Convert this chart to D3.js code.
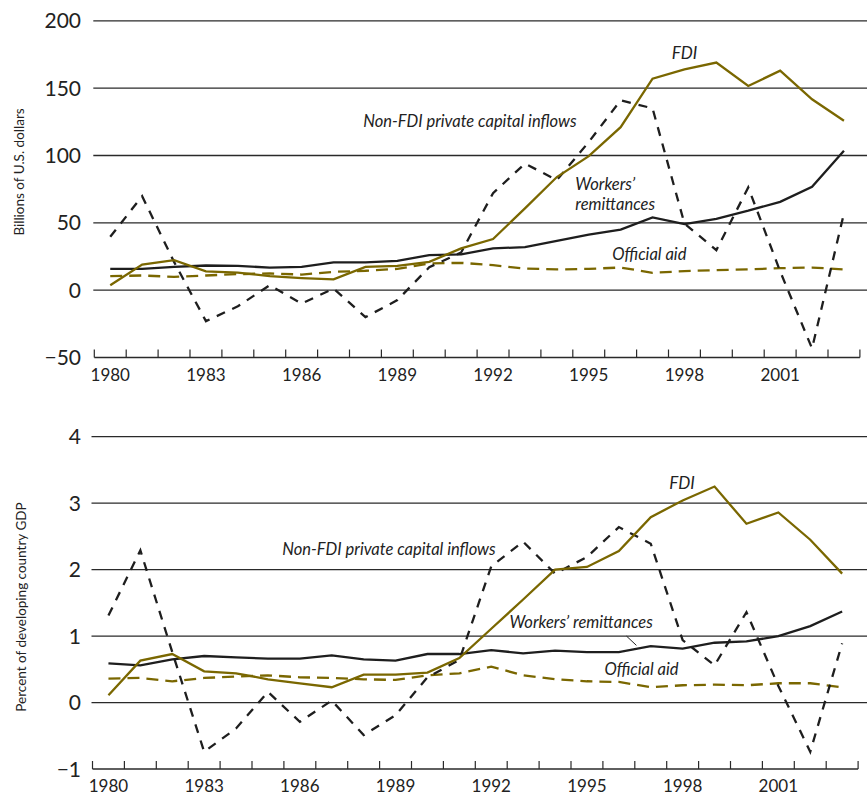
<!DOCTYPE html>
<html>
<head>
<meta charset="utf-8">
<script src="https://cdn.jsdelivr.net/npm/d3@7"></script>
<style>
  html, body { margin: 0; padding: 0; background: #fff; }
  svg { display: block; font-family: Lato, "Open Sans", sans-serif; }
</style>
</head>
<body>
<svg id="chart" width="867" height="797"></svg>
<script>
// ---------- data ----------
const years = d3.range(1980, 2004);
const yearLabels = [1980, 1983, 1986, 1989, 1992, 1995, 1998, 2001];

// Top panel: billions of U.S. dollars
const fdiBn = [3.7, 19, 22.3, 14, 13, 10.4, 9, 8, 17.3, 18, 21, 31, 38, 60.7, 84, 99.5, 121, 157, 164, 169, 151.6, 163, 141.7, 125.8];
const nonFdiBn = [39.6, 69.8, 21, -23, -12, 3.7, -10, 1.2, -20, -7.4, 17, 28, 72, 94, 81.7, 110, 141, 135, 49.5, 29.7, 76.3, 14, -43.3, 57];
const remitBn = [15.8, 15.8, 17.3, 18.3, 18, 16.8, 17.3, 20.6, 20.6, 21.8, 26, 26.5, 31, 32, 36.6, 41.3, 45, 54, 49, 53, 59, 65.6, 76.7, 103.5];
const aidBn = [10.4, 10.9, 9.9, 10.9, 11.9, 12.4, 11.6, 13.6, 14.4, 15.8, 19.8, 20.3, 18.6, 16, 15.4, 15.8, 16.8, 12.9, 14.1, 14.9, 15.4, 16.3, 16.8, 15.4];
const topTicks = [-50, 0, 50, 100, 150, 200];

// Bottom panel: percent of developing country GDP
const fdiPct = [0.11, 0.63, 0.73, 0.47, 0.44, 0.35, 0.29, 0.23, 0.42, 0.42, 0.45, 0.67, 1.11, 1.55, 2.0, 2.04, 2.28, 2.79, 3.04, 3.25, 2.69, 2.86, 2.45, 1.94];
const nonFdiPct = [1.31, 2.29, 0.76, -0.74, -0.39, 0.16, -0.29, 0.03, -0.49, -0.19, 0.38, 0.64, 2.05, 2.42, 1.94, 2.19, 2.64, 2.39, 0.94, 0.56, 1.36, 0.25, -0.74, 0.89];
const remitPct = [0.59, 0.56, 0.65, 0.70, 0.68, 0.66, 0.66, 0.71, 0.65, 0.63, 0.73, 0.73, 0.79, 0.74, 0.78, 0.76, 0.76, 0.85, 0.81, 0.90, 0.92, 1.0, 1.15, 1.37];
const aidPct = [0.36, 0.37, 0.32, 0.37, 0.39, 0.41, 0.38, 0.37, 0.35, 0.34, 0.41, 0.44, 0.54, 0.41, 0.35, 0.32, 0.31, 0.23, 0.26, 0.27, 0.26, 0.29, 0.29, 0.23];
const bottomTicks = [-1, 0, 1, 2, 3, 4];

const seriesNames = ["FDI", "Non-FDI private capital inflows", "Workers' remittances", "Official aid"];

// ---------- styles ----------
const OLIVE = "#7a6700";
const INK = "#1e1e1e";
const styles = {
  fdi:    { stroke: OLIVE, dash: null },
  nonfdi: { stroke: INK, dash: "9,8" },
  remit:  { stroke: INK, dash: null },
  aid:    { stroke: OLIVE, dash: "12,7" }
};

const svg = d3.select("#chart");

function fmt(v) { return v < 0 ? "\u2212" + Math.abs(v) : String(v); }

function panel(cfg) {
  const g = svg.append("g");
  const x = d3.scaleBand().domain(years).range([cfg.left, cfg.left + 31.9 * years.length]).padding(0);
  const y = d3.scaleLinear().domain(cfg.domain).range(cfg.yRange);
  const xc = yr => x(yr) + x.bandwidth() / 2;

  // gridlines
  g.append("g").selectAll("line").data(cfg.ticks.slice(1)).join("line")
    .attr("x1", cfg.left - 1).attr("x2", 867)
    .attr("y1", d => y(d)).attr("y2", d => y(d))
    .attr("stroke", "#2a2a2a").attr("stroke-width", 1.3);

  // y tick labels
  g.append("g").selectAll("text").data(cfg.ticks).join("text")
    .attr("x", 81).attr("y", d => y(d))
    .attr("dy", "0.36em")
    .attr("text-anchor", "end")
    .attr("font-size", 21)
    .attr("fill", "#222")
    .text(fmt);

  // x axis line + ticks
  const y0 = y(cfg.domain[0]);
  g.append("line").attr("x1", x.range()[0]).attr("x2", x.range()[1])
    .attr("y1", y0).attr("y2", y0).attr("stroke", "#2a2a2a").attr("stroke-width", 1.3);
  const bounds = years.map(yr => x(yr)).concat([x.range()[1]]);
  g.append("g").selectAll("line").data(bounds).join("line")
    .attr("x1", d => d).attr("x2", d => d)
    .attr("y1", y0).attr("y2", y0 - 8)
    .attr("stroke", "#2a2a2a").attr("stroke-width", 1.2);
  g.append("g").selectAll("text").data(yearLabels).join("text")
    .attr("x", d => xc(d)).attr("y", y0 + 23)
    .attr("text-anchor", "middle")
    .attr("font-size", 17)
    .attr("fill", "#222")
    .text(d => d);

  // axis title
  g.append("text")
    .attr("transform", `translate(${cfg.titleX},${cfg.titleY}) rotate(-90)`)
    .attr("text-anchor", "middle")
    .attr("font-size", 13.5)
    .attr("fill", "#222")
    .text(cfg.title);

  // lines
  const line = d3.line().x((d, i) => xc(years[i])).y(d => y(d));
  const order = [["aid", cfg.aid], ["remit", cfg.remit], ["nonfdi", cfg.nonfdi], ["fdi", cfg.fdi]];
  order.forEach(([k, vals]) => {
    g.append("path").datum(vals)
      .attr("d", line)
      .attr("fill", "none")
      .attr("stroke", styles[k].stroke)
      .attr("stroke-width", 2.3)
      .attr("stroke-linejoin", "miter")
      .attr("stroke-dasharray", styles[k].dash);
  });

  // annotations
  cfg.labels.forEach(l => {
    g.append("text")
      .attr("x", xc(1980) + (l.yr - 1980) * 31.9)
      .attr("y", y(l.v))
      .attr("text-anchor", l.anchor || "start")
      .attr("font-size", l.size || 16.5)
      .attr("font-style", "italic")
      .attr("fill", "#222")
      .text(l.text);
  });
  if (cfg.leader) {
    const L = cfg.leader;
    g.append("line")
      .attr("x1", xc(1980) + (L[0] - 1980) * 31.9).attr("y1", y(L[1]))
      .attr("x2", xc(1980) + (L[2] - 1980) * 31.9).attr("y2", y(L[3]))
      .attr("stroke", "#222").attr("stroke-width", 1);
  }
}

panel({
  left: 94.3, domain: [-50, 200], yRange: [357.5, 20.8], ticks: topTicks,
  title: "Billions of U.S. dollars", titleX: 24, titleY: 172,
  fdi: fdiBn, nonfdi: nonFdiBn, remit: remitBn, aid: aidBn,
  labels: [
    { text: seriesNames[0], yr: 1998.0, v: 172, anchor: "middle", size: 17 },
    { text: seriesNames[1], yr: 1987.93, v: 121 },
    { text: "Workers\u2019", yr: 1994.58, v: 74.3 },
    { text: "remittances", yr: 1994.58, v: 59.4 },
    { text: seriesNames[3], yr: 1995.74, v: 22.3 }
  ]
});

panel({
  left: 92.5, domain: [-1, 4], yRange: [769, 436.7], ticks: bottomTicks,
  title: "Percent of developing country GDP", titleX: 26, titleY: 607,
  fdi: fdiPct, nonfdi: nonFdiPct, remit: remitPct, aid: aidPct,
  labels: [
    { text: seriesNames[0], yr: 1997.98, v: 3.22, anchor: "middle", size: 17 },
    { text: seriesNames[1], yr: 1985.45, v: 2.22 },
    { text: "Workers\u2019 remittances", yr: 1992.57, v: 1.12 },
    { text: seriesNames[3], yr: 1995.55, v: 0.41 }
  ],
  leader: [1996.24, 1.0, 1996.55, 0.86]
});
</script>
</body>
</html>
